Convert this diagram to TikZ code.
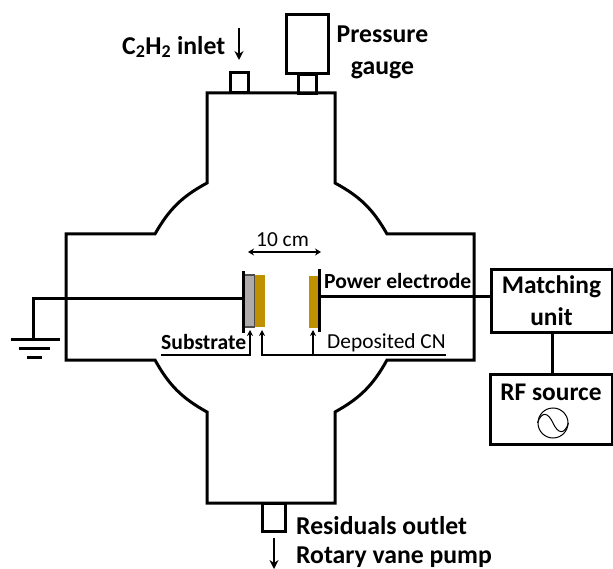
\documentclass[tikz,border=0pt]{standalone}
\usepackage{fontspec}
\setmainfont{Carlito}
\usetikzlibrary{arrows.meta}

\begin{document}
\begin{tikzpicture}[
  x=1pt, y=-1pt,
  wall/.style={line width=3pt, line join=miter},
  box/.style={draw, line width=3pt, outer sep=0pt, inner sep=0pt, align=center},
  unitbox/.style={box, font=\fontsize{25.4}{32}\selectfont\bfseries},
  plate/.style={fill=black, outer sep=0pt, inner sep=0pt, minimum width=3.4pt},
  film/.style={fill=cngold, outer sep=0pt, inner sep=0pt, minimum width=10pt},
  lblb/.style={font=\fontsize{21.6}{25}\selectfont\bfseries, inner sep=0pt},
  lblbig/.style={font=\fontsize{25.7}{32}\selectfont\bfseries, inner sep=0pt, align=center},
  lblr/.style={font=\fontsize{21.4}{25}\selectfont, inner sep=0pt},
  arr/.style={-{Stealth[length=9pt,width=9pt]}, line width=2.2pt},
  thinarr/.style={-{Stealth[length=6pt,width=6pt]}, line width=1.3pt},
  dimarr/.style={{Stealth[length=6pt,width=7pt]}-{Stealth[length=6pt,width=7pt]}, line width=1.5pt},
  conn/.style={line width=3pt}
]
\definecolor{cngold}{RGB}{191,144,0}
\definecolor{subgray}{RGB}{175,171,171}
\useasboundingbox (0,0) rectangle (613,569);

%% ── chamber ─────────────────────────────────────────────
\draw[wall] (207,183) -- (207,93) -- (335,93) -- (335,183)
  to[bend left=16] (387,234) -- (474,234) -- (474,360) -- (387,360)
  to[bend left=16] (335,412) -- (335,503) -- (207,503) -- (207,412)
  to[bend left=16] (155,360) -- (66,360) -- (66,234) -- (155,234)
  to[bend left=16] cycle;

%% ── ports ───────────────────────────────────────────────
\node[box, minimum width=18pt, minimum height=20pt] (inlet)  at (239,83)  {};
\node[box, minimum width=18pt, minimum height=19pt] (neck)   at (307,84)  {};
\node[box, minimum width=42pt, minimum height=59pt] (gauge)  at (307,44)  {};
\node[box, minimum width=23pt, minimum height=28pt] (outlet) at (273.5,517) {};

%% ── electrodes ──────────────────────────────────────────
\node[box, fill=subgray, draw=black!70, line width=1.2pt,
      minimum width=10pt, minimum height=52pt] (sub) at (249.5,301) {};
\node[plate, minimum height=62pt] (gndplate) at (243.5,302) {};
\node[film, minimum height=52pt]  (cnleft)   at (259.5,301) {};
\node[film, minimum height=52pt]  (cnright)  at (313.5,302) {};
\node[plate, minimum height=63pt] (pwrplate) at (319.5,300.5) {};

%% ── matching network ────────────────────────────────────
\node[unitbox, minimum width=121pt, minimum height=62pt] (match) at (551.5,301) {Matching\\unit};
\node[box, minimum width=122pt, minimum height=70pt] (rf) at (551,409) {};
\node[font=\fontsize{25.4}{32}\selectfont\bfseries, inner sep=0pt] (rflbl) at (551,392) {RF source};
\node[circle, draw, line width=1pt, minimum size=30pt, inner sep=0pt] (sine) at (553,423) {};
\draw[line width=1pt] (sine.west) .. controls +(4,-12) and +(-5,-11) .. (sine.center)
  .. controls +(5,11) and +(-4,12) .. (sine.east);

%% ── ground ──────────────────────────────────────────────
\coordinate (gnd) at (33,339);
\coordinate (gndcorner) at (33,299);
\node[fill=black, minimum width=49pt, minimum height=3pt, inner sep=0pt, outer sep=0pt] (g1) at (35.5,339) {};
\node[fill=black, minimum width=31pt, minimum height=3pt, inner sep=0pt, outer sep=0pt] (g2) at (34.5,348) {};
\node[fill=black, minimum width=15pt, minimum height=3pt, inner sep=0pt, outer sep=0pt] (g3) at (34.5,357) {};

%% ── wires ───────────────────────────────────────────────
\draw[conn] (gndplate.west |- gndcorner) -- (gndcorner) -- (gnd);
\draw[conn] (pwrplate.east |- 0,297) -- (match.west |- 0,297);
\draw[conn] (match.south -| 552,0) -- (rf.north -| 552,0);

%% ── labels ──────────────────────────────────────────────
\node[lblbig, anchor=west] (inletlbl) at (122,47) {C\textsubscript{2}H\textsubscript{2} inlet};
\node[lblbig] (presslbl) at (382.5,52) {Pressure\\gauge};
\node[lblr] (dist) at (282.5,240) {10 cm};
\node[lblb, anchor=west] (pwrlbl) at (324,281) {Power electrode};
\node[lblb, anchor=west] (sublbl) at (161,342) {Substrate};
\node[lblr, anchor=west] (cnlbl) at (327,343) {Deposited CN};
\node[lblbig, anchor=west] (outlbl) at (296,526) {Residuals outlet};
\node[lblbig, anchor=west] (pumplbl) at (296,557) {Rotary vane pump};

%% ── arrows ──────────────────────────────────────────────
\coordinate (inarrtop) at (239,28);
\coordinate (outarrtop) at (274,538);
\draw[arr] (inarrtop) -- ++(0,32);
\draw[arr] (outarrtop) -- ++(0,31);
\draw[dimarr] (248,252) -- (321,252);

\coordinate (subtip) at (250,330);
\coordinate (cntip)  at (262,330);
\coordinate (cnrtip) at (313,330);
\draw[thinarr] (sublbl.west |- 0,355) -- (250,355) -- (subtip);
\draw[thinarr] (446,355) -- (262,355) -- (cntip);
\draw[thinarr] (cnrtip |- 0,355) -- (cnrtip);

\end{tikzpicture}
\end{document}
